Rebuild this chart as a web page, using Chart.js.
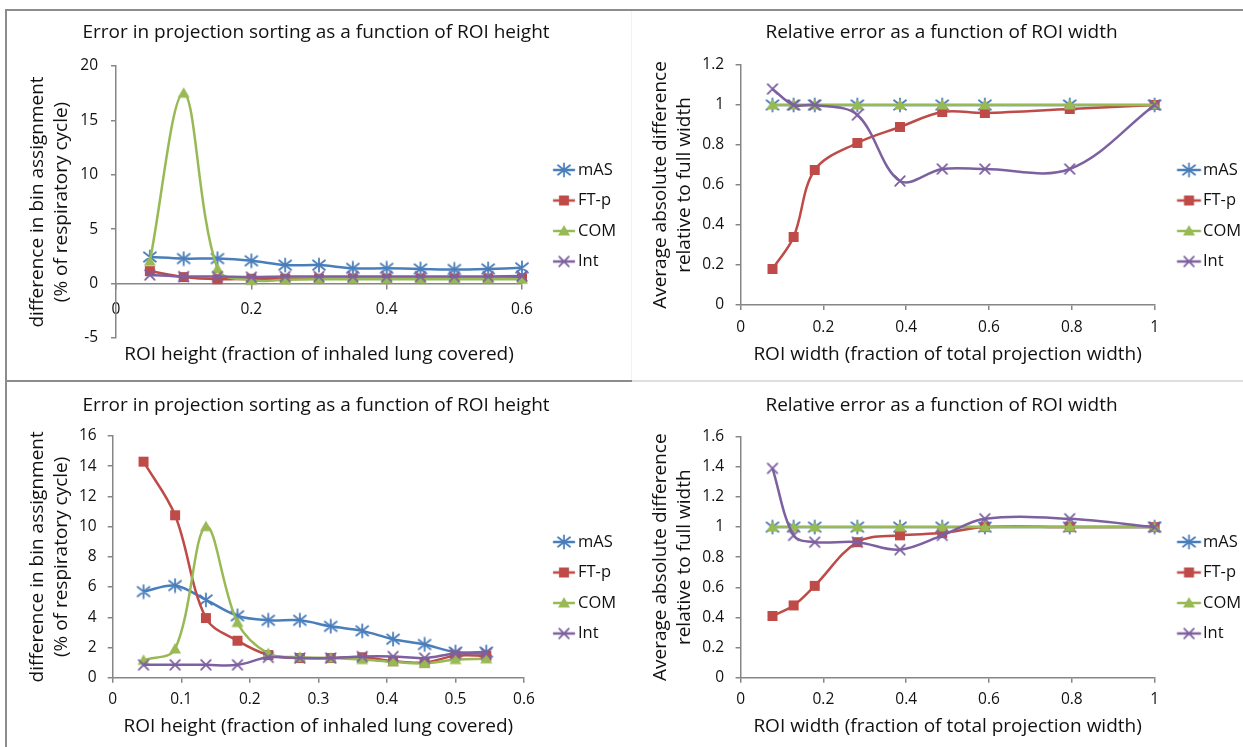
<!DOCTYPE html>
<html>
<head>
<meta charset="utf-8">
<title>ROI size study</title>
<script src="https://cdn.jsdelivr.net/npm/chart.js@4.4.1/dist/chart.umd.min.js"></script>
<style>
  html, body { margin: 0; padding: 0; background: #fff; }
  body { position: relative; width: 1243px; height: 747px; overflow: hidden; }
  canvas { position: absolute; }
  .rule { position: absolute; }
</style>
</head>
<body>
<div class="rule" style="left:5px;top:9px;width:1238px;height:2px;background:#8c8c8c"></div>
<div class="rule" style="left:5px;top:9px;width:2px;height:738px;background:#8c8c8c"></div>
<div class="rule" style="left:5px;top:380px;width:627px;height:2px;background:#8c8c8c"></div>
<div class="rule" style="left:632px;top:380px;width:611px;height:2px;background:#dedede"></div>
<div class="rule" style="left:631px;top:11px;width:1px;height:369px;background:#f2f2f2"></div>

<canvas id="cTL" width="660" height="371" style="left:6px;top:10px;width:660px;height:371px"></canvas>
<canvas id="cTR" width="640" height="371" style="left:632px;top:10px;width:640px;height:371px"></canvas>
<canvas id="cBL" width="660" height="365" style="left:6px;top:382px;width:660px;height:365px"></canvas>
<canvas id="cBR" width="640" height="365" style="left:632px;top:382px;width:640px;height:365px"></canvas>

<script>
// ---- data: ROI height study (first set) ----
const heightTop      = [0.05, 0.10, 0.15, 0.20, 0.25, 0.30, 0.35, 0.40, 0.45, 0.50, 0.55, 0.60];
const heightTop_mAS  = [2.45, 2.3, 2.3, 2.1, 1.7, 1.7, 1.4, 1.4, 1.35, 1.3, 1.35, 1.45];
const heightTop_FTp  = [1.15, 0.6, 0.4, 0.45, 0.45, 0.45, 0.45, 0.45, 0.45, 0.45, 0.45, 0.5];
const heightTop_COM  = [2.05, 17.5, 1.35, 0.3, 0.35, 0.4, 0.4, 0.4, 0.4, 0.4, 0.4, 0.4];
const heightTop_Int  = [0.8, 0.65, 0.65, 0.6, 0.65, 0.65, 0.65, 0.65, 0.65, 0.65, 0.65, 0.7];

// ---- data: ROI width study (first set) ----
const widthTop       = [0.077, 0.128, 0.179, 0.282, 0.385, 0.487, 0.59, 0.795, 1.0];
const widthTop_mAS   = [1, 1, 1, 1, 1, 1, 1, 1, 1];
const widthTop_FTp   = [0.18, 0.34, 0.675, 0.81, 0.89, 0.965, 0.96, 0.98, 1.0];
const widthTop_COM   = [1, 1, 1, 1, 1, 1, 1, 1, 1];
const widthTop_Int   = [1.08, 1.0, 1.0, 0.95, 0.62, 0.68, 0.68, 0.68, 1.0];

// ---- data: ROI height study (second set) ----
const heightBottom     = [0.045, 0.091, 0.136, 0.182, 0.227, 0.273, 0.318, 0.364, 0.409, 0.455, 0.5, 0.545];
const heightBottom_mAS = [5.7, 6.1, 5.15, 4.1, 3.8, 3.8, 3.4, 3.1, 2.55, 2.2, 1.7, 1.7];
const heightBottom_FTp = [14.3, 10.75, 3.95, 2.45, 1.5, 1.3, 1.3, 1.35, 1.1, 1.0, 1.45, 1.45];
const heightBottom_COM = [1.15, 1.9, 10.0, 3.65, 1.6, 1.35, 1.3, 1.2, 1.05, 0.95, 1.2, 1.25];
const heightBottom_Int = [0.85, 0.85, 0.85, 0.85, 1.35, 1.3, 1.3, 1.4, 1.4, 1.3, 1.6, 1.6];

// ---- data: ROI width study (second set) ----
const widthBottom     = [0.077, 0.128, 0.179, 0.282, 0.385, 0.487, 0.59, 0.795, 1.0];
const widthBottom_mAS = [1, 1, 1, 1, 1, 1, 1, 1, 1];
const widthBottom_FTp = [0.41, 0.48, 0.61, 0.9, 0.945, 0.96, 1.0, 1.0, 1.0];
const widthBottom_COM = [1, 1, 1, 1, 1, 1, 1, 1, 1];
const widthBottom_Int = [1.39, 0.945, 0.9, 0.9, 0.85, 0.945, 1.055, 1.055, 1.0];

// ---- labels ----
const seriesNames   = ['mAS', 'FT-p', 'COM', 'Int'];
const titleHeight   = 'Error in projection sorting as a function of ROI height';
const titleWidth    = 'Relative error as a function of ROI width';
const xTitleHeight  = 'ROI height (fraction of inhaled lung covered)';
const xTitleWidth   = 'ROI width (fraction of total projection width)';
const yTitleHeight  = ['difference in bin assignment', '(% of respiratory cycle)'];
const yTitleWidth   = ['Average absolute difference', 'relative to full width'];

// ---- styling ----
const FONT = '"Open Sans", Lato, sans-serif';
const TEXT = '#111';
const AXIS = '#868686';
const COLORS  = ['#4a7ebb', '#be4b48', '#98b954', '#7d60a0'];
const MARKERS = ['star', 'square', 'triangle', 'cross'];
const TITLE_SIZE = 19, AXIS_TITLE_SIZE = 19, TICK_SIZE = 15.5;
const LEGEND_FONT = 16.5, LEGEND_PAD = 14;

function drawMarker(ctx, kind, color, x, y) {
  ctx.save();
  ctx.strokeStyle = color; ctx.fillStyle = color; ctx.lineWidth = 1.8; ctx.lineCap = 'round';
  if (kind === 'star') {
    ctx.beginPath();
    ctx.moveTo(x, y - 6.5); ctx.lineTo(x, y + 6.5);
    ctx.moveTo(x - 6, y - 4.8); ctx.lineTo(x + 6, y + 4.8);
    ctx.moveTo(x - 6, y + 4.8); ctx.lineTo(x + 6, y - 4.8);
    ctx.stroke();
  } else if (kind === 'square') {
    ctx.fillRect(x - 5, y - 5, 10, 10);
  } else if (kind === 'triangle') {
    ctx.beginPath();
    ctx.moveTo(x, y - 6); ctx.lineTo(x + 6, y + 4.5); ctx.lineTo(x - 6, y + 4.5);
    ctx.closePath(); ctx.fill();
  } else {
    ctx.beginPath();
    ctx.moveTo(x - 4.8, y - 4.8); ctx.lineTo(x + 4.8, y + 4.8);
    ctx.moveTo(x - 4.8, y + 4.8); ctx.lineTo(x + 4.8, y - 4.8);
    ctx.stroke();
  }
  ctx.restore();
}

function markerImage(kind, color) {
  const c = document.createElement('canvas');
  c.width = 16; c.height = 16;
  drawMarker(c.getContext('2d'), kind, color, 8, 8);
  return c;
}

// legend swatch: short line with the marker in its middle,
// laid out so that the line runs from lineStart to lineEnd (canvas x)
function legendSwatch(kind, color, centerX, lineStart, lineEnd) {
  const half = Math.ceil(Math.max(Math.abs(lineStart - centerX), Math.abs(lineEnd - centerX))) + 8;
  const c = document.createElement('canvas');
  c.width = half * 2; c.height = 16;
  const ctx = c.getContext('2d');
  const a = lineStart - centerX + half, b = lineEnd - centerX + half;
  ctx.strokeStyle = color; ctx.lineWidth = 2.5;
  ctx.beginPath(); ctx.moveTo(a, 8); ctx.lineTo(b, 8); ctx.stroke();
  drawMarker(ctx, kind, color, (a + b) / 2, 8);
  return c;
}

// moves the legend block vertically by options.dy after layout
const legendNudge = {
  id: 'legendNudge',
  afterLayout(chart, args, opts) {
    if (chart.legend && opts && opts.dy) {
      chart.legend.top += opts.dy;
      chart.legend.bottom += opts.dy;
    }
  }
};

function makeDatasets(xs, seriesList) {
  return seriesList.map((ys, i) => ({
    label: seriesNames[i],
    data: xs.map((x, k) => ({ x: x, y: ys[k] })),
    borderColor: COLORS[i],
    backgroundColor: COLORS[i],
    borderWidth: 2.5,
    tension: 0.35,
    pointStyle: markerImage(MARKERS[i], COLORS[i]),
    pointRadius: 6,
    pointHoverRadius: 6,
    clip: false,
    order: 3 - i
  }));
}

const fmt = v => String(+Number(v).toFixed(2));

function buildChart(id, p) {
  const ctxEl = document.getElementById(id);
  // legend items begin at the plot's right edge + padding
  const boxW = p.legendText - p.right - LEGEND_PAD - LEGEND_FONT / 2;
  const swatchCenter = p.right + LEGEND_PAD + boxW / 2;
  const swatches = MARKERS.map((m, i) => legendSwatch(m, COLORS[i], swatchCenter, p.lineStart, p.lineEnd));

  const axisTitleFont = { family: FONT, size: AXIS_TITLE_SIZE, lineHeight: 1.2 };
  const tickFont = { family: FONT, size: TICK_SIZE, lineHeight: 1.2 };

  const scales = {
    x: {
      type: 'linear',
      min: p.xMin, max: p.xMax,
      position: p.xAtZero ? { y: 0 } : 'bottom',
      ticks: { stepSize: p.xStep, color: TEXT, padding: p.xTickPad, font: tickFont, callback: fmt, maxRotation: 0, autoSkip: false },
      grid: { display: true, drawOnChartArea: false, drawTicks: true, tickLength: 5, color: AXIS, lineWidth: 1.5 },
      border: { display: true, color: AXIS, width: 1.5 },
      title: p.xAtZero ? { display: false } : { display: true, text: p.xTitle, color: TEXT, font: axisTitleFont, padding: { top: 0, bottom: p.xTitlePadBottom } },
      afterFit: p.xAtZero ? undefined : (s) => { s.height = p.bottomH; }
    },
    y: {
      type: 'linear',
      min: p.yMin, max: p.yMax,
      ticks: { stepSize: p.yStep, color: TEXT, padding: p.yTickPad, font: tickFont, callback: fmt },
      grid: { display: true, drawOnChartArea: false, drawTicks: true, tickLength: 5, color: AXIS, lineWidth: 1.5 },
      border: { display: true, color: AXIS, width: 1.5 },
      title: { display: true, text: p.yTitle, color: TEXT, font: { family: FONT, size: AXIS_TITLE_SIZE, lineHeight: 24 / AXIS_TITLE_SIZE }, padding: { top: p.yTitlePadTop, bottom: 0 } },
      afterFit: (s) => { s.width = p.left; }
    }
  };
  if (p.xAtZero) {
    // caption-only axis under the plot, used when the tick axis sits at y = 0
    scales.xcap = {
      type: 'linear', position: 'bottom', min: p.xMin, max: p.xMax,
      ticks: { display: false },
      grid: { display: false, drawTicks: false },
      border: { display: false },
      title: { display: true, text: p.xTitle, color: TEXT, font: axisTitleFont, padding: { top: 0, bottom: p.xTitlePadBottom } },
      afterFit: (s) => { s.height = p.bottomH; }
    };
  }

  const config = {
    type: 'line',
    data: { datasets: makeDatasets(p.xs, p.series) },
    plugins: [legendNudge],
    options: {
      responsive: false,
      animation: false,
      events: [],
      devicePixelRatio: 1,
      layout: { padding: { left: 0, right: 0, top: 0, bottom: 0 } },
      scales: scales,
      plugins: {
        title: {
          display: true, text: p.title, color: TEXT,
          font: { family: FONT, size: TITLE_SIZE, weight: 'normal', lineHeight: 22 / TITLE_SIZE },
          padding: { top: p.titlePadTop, bottom: p.titlePadBottom }
        },
        tooltip: { enabled: false },
        legendNudge: { dy: p.legendDy },
        legend: {
          display: true, position: 'right', align: 'center',
          labels: {
            usePointStyle: true,
            pointStyleWidth: boxW,
            padding: LEGEND_PAD,
            color: TEXT,
            font: { family: FONT, size: LEGEND_FONT },
            sort: (a, b) => a.datasetIndex - b.datasetIndex,
            generateLabels: (chart) => {
              const items = Chart.defaults.plugins.legend.labels.generateLabels(chart);
              items.forEach(it => { it.pointStyle = swatches[it.datasetIndex]; });
              return items;
            }
          }
        }
      }
    }
  };
  const chart = new Chart(ctxEl, config);
  // keep the plot's right edge where the legend should start
  for (let k = 0; k < 4; k++) {
    const d = chart.chartArea.right - p.right;
    if (Math.abs(d) < 0.2) break;
    chart.config.options.layout.padding.right += d;
    chart.update('none');
  }
  return chart;
}

buildChart('cTL', {
  xs: heightTop, series: [heightTop_mAS, heightTop_FTp, heightTop_COM, heightTop_Int],
  title: titleHeight, xTitle: xTitleHeight, yTitle: yTitleHeight,
  xMin: 0, xMax: 0.6, xStep: 0.2, yMin: -5, yMax: 20, yStep: 5, xAtZero: true,
  left: 110, right: 516, bottomH: 43,
  titlePadTop: 12, titlePadBottom: 22,
  xTickPad: 11.7, yTickPad: 13, yTitlePadTop: 20, xTitlePadBottom: 14.6,
  legendText: 572, lineStart: 547, lineEnd: 569, legendDy: 20.25
});

buildChart('cTR', {
  xs: widthTop, series: [widthTop_mAS, widthTop_FTp, widthTop_COM, widthTop_Int],
  title: titleWidth, xTitle: xTitleWidth, yTitle: yTitleWidth,
  xMin: 0, xMax: 1, xStep: 0.2, yMin: 0, yMax: 1.2, yStep: 0.2, xAtZero: false,
  left: 108.6, right: 522.6, bottomH: 76,
  titlePadTop: 12, titlePadBottom: 21,
  xTickPad: 8.7, yTickPad: 11.5, yTitlePadTop: 17, xTitlePadBottom: 14.6,
  legendText: 571, lineStart: 545, lineEnd: 569, legendDy: 20.25
});

buildChart('cBL', {
  xs: heightBottom, series: [heightBottom_mAS, heightBottom_FTp, heightBottom_COM, heightBottom_Int],
  title: titleHeight, xTitle: xTitleHeight, yTitle: yTitleHeight,
  xMin: 0, xMax: 0.6, xStep: 0.1, yMin: 0, yMax: 16, yStep: 2, xAtZero: false,
  left: 106.7, right: 518, bottomH: 69.3,
  titlePadTop: 13, titlePadBottom: 19,
  xTickPad: 8, yTickPad: 11, yTitlePadTop: 20, xTitlePadBottom: 8.6,
  legendText: 572, lineStart: 547, lineEnd: 569, legendDy: 23.25
});

buildChart('cBR', {
  xs: widthBottom, series: [widthBottom_mAS, widthBottom_FTp, widthBottom_COM, widthBottom_Int],
  title: titleWidth, xTitle: xTitleWidth, yTitle: yTitleWidth,
  xMin: 0, xMax: 1, xStep: 0.2, yMin: 0, yMax: 1.6, yStep: 0.2, xAtZero: false,
  left: 108.6, right: 522.6, bottomH: 69.3,
  titlePadTop: 13, titlePadBottom: 19.7,
  xTickPad: 8, yTickPad: 11.5, yTitlePadTop: 17, xTitlePadBottom: 8.6,
  legendText: 571, lineStart: 545, lineEnd: 569, legendDy: 23.25
});
</script>
</body>
</html>
